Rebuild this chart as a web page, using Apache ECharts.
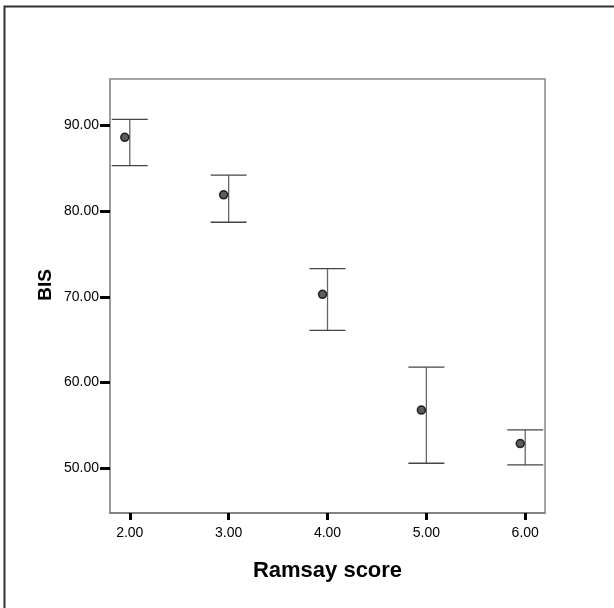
<!DOCTYPE html>
<html>
<head>
<meta charset="utf-8">
<script src="https://cdn.jsdelivr.net/npm/echarts@6/dist/echarts.min.js"></script>
<style>
  html, body { margin: 0; padding: 0; background: #fff; }
  #chart { width: 614px; height: 608px; }
</style>
</head>
<body>
<div id="chart"></div>
<script>
// Ramsay score groups
const ramsay = [2, 3, 4, 5, 6]
// mean BIS per group
const bisMean = [88.6, 81.9, 70.3, 56.8, 52.9]
// error bar ends (95% CI)
const bisUpper = [90.7, 84.2, 73.3, 61.8, 54.5]
const bisLower = [85.3, 78.7, 66.1, 50.6, 50.4]
// tick labels
const xTicks = [2, 3, 4, 5, 6]
const yTicks = [50, 60, 70, 80, 90]

const chart = echarts.init(document.getElementById('chart'))

const fontFamily = '"Liberation Sans", Arial, sans-serif'

chart.setOption({
  backgroundColor: '#fff',
  animation: false,
  graphic: [{
    type: 'rect',
    shape: { x: 4.5, y: 6.5, width: 800, height: 800 },
    style: { fill: 'none', stroke: '#333', lineWidth: 2 },
    silent: true
  }, {
    // y axis title, sits a bit above the plot middle like the original
    type: 'text',
    x: 46,
    y: 285,
    rotation: Math.PI / 2,
    style: {
      text: 'BIS',
      fontFamily: fontFamily,
      fontSize: 19,
      fontWeight: 'bold',
      fill: '#000',
      align: 'center',
      verticalAlign: 'middle'
    }
  }],
  grid: {
    left: 110,
    top: 79,
    right: 69,
    bottom: 95,
    show: true,
    borderColor: '#888',
    borderWidth: 1.5
  },
  xAxis: {
    type: 'value',
    min: 1.8,
    max: 6.2,
    name: 'Ramsay score',
    nameLocation: 'middle',
    nameGap: 47,
    nameTextStyle: { fontFamily: fontFamily, fontSize: 22, fontWeight: 'bold', color: '#000' },
    axisLine: { show: true, onZero: false, lineStyle: { color: '#777', width: 1.5 } },
    axisTick: { show: true, length: 7, lineStyle: { color: '#000', width: 3 }, customValues: xTicks },
    axisLabel: {
      customValues: xTicks,
      margin: 13,
      fontFamily: fontFamily,
      fontSize: 14,
      color: '#000',
      formatter: v => v.toFixed(2)
    },
    splitLine: { show: false }
  },
  yAxis: {
    type: 'value',
    min: 44.8,
    max: 95.4,
    axisLine: { show: true, onZero: false, lineStyle: { color: '#999', width: 1.5 } },
    axisTick: { show: true, length: 10, lineStyle: { color: '#000', width: 3 }, customValues: yTicks },
    axisLabel: {
      customValues: yTicks,
      margin: 11,
      fontFamily: fontFamily,
      fontSize: 14,
      color: '#000',
      formatter: v => v.toFixed(2)
    },
    splitLine: { show: false }
  },
  series: [{
    name: 'CI',
    type: 'custom',
    data: ramsay.map((x, i) => [x, bisLower[i], bisUpper[i]]),
    renderItem: (params, api) => {
      const lo = api.coord([api.value(0), api.value(1)])
      const hi = api.coord([api.value(0), api.value(2)])
      const half = 18
      const style = { stroke: '#444', lineWidth: 1.3 }
      return {
        type: 'group',
        children: [
          { type: 'line', shape: { x1: lo[0], y1: lo[1], x2: hi[0], y2: hi[1] }, style: { stroke: '#666', lineWidth: 1.3 } },
          { type: 'line', shape: { x1: hi[0] - half, y1: hi[1], x2: hi[0] + half, y2: hi[1] }, style: style },
          { type: 'line', shape: { x1: lo[0] - half, y1: lo[1], x2: lo[0] + half, y2: lo[1] }, style: style }
        ]
      }
    },
    z: 2
  }, {
    name: 'Mean',
    type: 'scatter',
    data: ramsay.map((x, i) => [x, bisMean[i]]),
    symbol: 'circle',
    symbolSize: 8,
    symbolOffset: [-5, 0],
    itemStyle: { color: '#333', borderColor: '#000', borderWidth: 1.5 },
    z: 3
  }]
})
</script>
</body>
</html>
